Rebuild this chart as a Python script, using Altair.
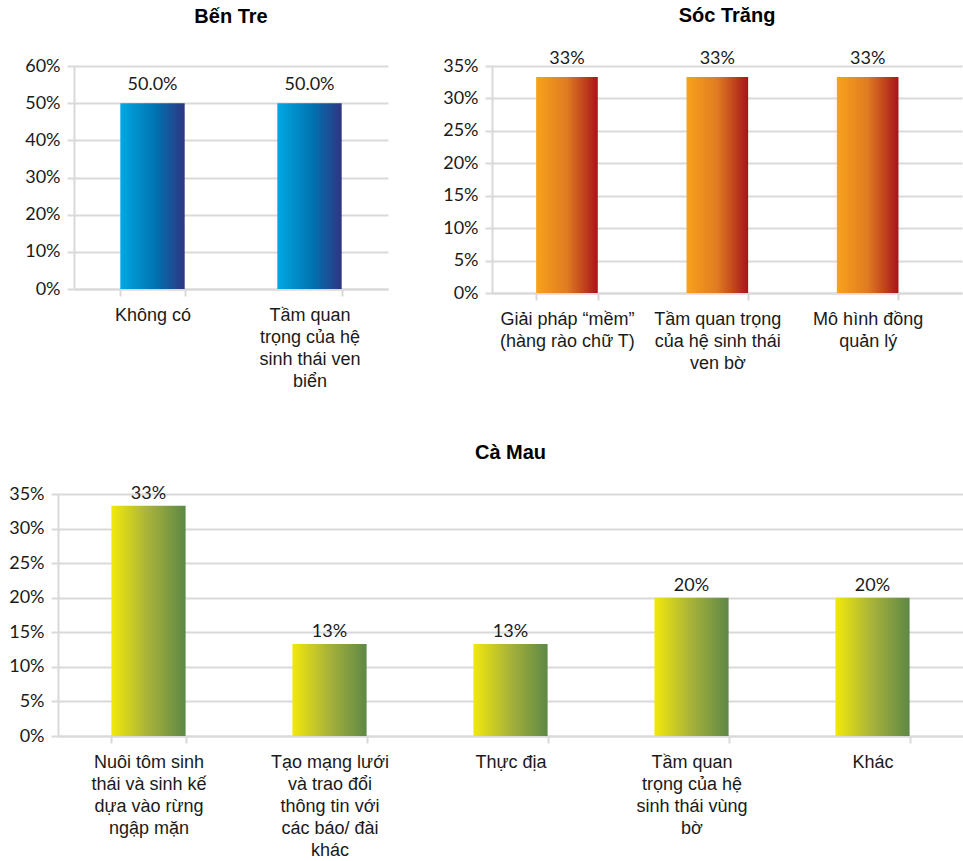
import altair as alt
import pandas as pd

# ---- data ----
bt_cats = ["Không có", "Tầm quan\ntrọng của hệ\nsinh thái ven\nbiển"]
bt_vals = [0.50, 0.50]
bt_ticks = [0.0, 0.1, 0.2, 0.3, 0.4, 0.5, 0.6]

st_cats = ["Giải pháp “mềm”\n(hàng rào chữ T)", "Tầm quan trọng\ncủa hệ sinh thái\nven bờ", "Mô hình đồng\nquản lý"]
st_vals = [0.333, 0.333, 0.333]
st_ticks = [0.0, 0.05, 0.10, 0.15, 0.20, 0.25, 0.30, 0.35]

cm_cats = ["Nuôi tôm sinh\nthái và sinh kế\ndựa vào rừng\nngập mặn",
           "Tạo mạng lưới\nvà trao đổi\nthông tin với\ncác báo/ đài\nkhác",
           "Thực địa",
           "Tầm quan\ntrọng của hệ\nsinh thái vùng\nbờ",
           "Khác"]
cm_vals = [0.333, 0.133, 0.133, 0.200, 0.200]
cm_ticks = [0.0, 0.05, 0.10, 0.15, 0.20, 0.25, 0.30, 0.35]

BLUE = [(0.0, "#00A9E3"), (0.55, "#0072B0"), (1.0, "#2F3581")]
ORANGE = [(0.0, "#F8A21C"), (0.5, "#E07B22"), (1.0, "#A8141A")]
GREEN = [(0.0, "#F2E80C"), (0.5, "#A6B23A"), (1.0, "#5E8845")]

GRID = "#D9D9D9"
TXT = "#1a1a1a"


def panel(cats, vals, ticks, title, stops, fmt, w, h, po, align, extent, dy, toff):
    df = pd.DataFrame({"cat": cats, "val": vals})
    xscale = alt.Scale(paddingInner=0.59, paddingOuter=po, align=align)
    x = alt.X("cat:N", sort=None, scale=xscale,
              axis=alt.Axis(title=None, labelAngle=0, tickBand="extent",
                            labelExpr="split(datum.label, '\\n')",
                            domain=True, domainColor=GRID, domainWidth=2,
                            ticks=True, tickColor=GRID, tickWidth=2, tickSize=7,
                            labelFont="Liberation Sans", labelFontSize=18,
                            labelColor=TXT, labelLineHeight=22, labelPadding=10,
                            labelBaseline="top", grid=False))
    y = alt.Y("val:Q", scale=alt.Scale(domain=[ticks[0], ticks[-1]], nice=False, zero=True),
              axis=alt.Axis(title=None, format=".0%", values=ticks,
                            tickCount=len(ticks) + 2, labelOverlap=False,
                            grid=True, gridColor=GRID, gridWidth=2,
                            domain=True, domainColor=GRID, domainWidth=2,
                            ticks=True, tickColor=GRID, tickWidth=2, tickSize=7,
                            labelFont="Lato", labelFontSize=18, labelColor=TXT,
                            labelPadding=7, minExtent=extent, maxExtent=extent))
    grad = alt.Gradient(gradient="linear",
                        stops=[alt.GradientStop(offset=o, color=c) for o, c in stops],
                        x1=0, x2=1, y1=0, y2=0)
    base = alt.Chart(df).encode(x=x, y=y)
    bars = base.mark_bar(color=grad)
    text = base.mark_text(dy=dy, baseline="alphabetic", font="Lato",
                          fontSize=18, color=TXT).encode(
        text=alt.Text("val:Q", format=fmt))
    return alt.layer(bars, text).properties(
        width=w, height=h,
        title=alt.TitleParams(title, font="Liberation Sans", fontSize=20,
                              fontWeight="bold", color="#000000",
                              anchor="middle", offset=toff))


def spacer(w):
    return alt.Chart(pd.DataFrame({"s": [0]})).mark_rect(
        fill="#ffffff", opacity=1, strokeWidth=0, stroke="#ffffff"
    ).encode(
        x=alt.value(0), x2=alt.value(w), y=alt.value(0), y2=alt.value(1)
    ).properties(width=w, height=1)


bt = panel(bt_cats, bt_vals, bt_ticks, "Bến Tre", BLUE, ".1%", 314, 223, 0.295, 0.5, 66, -13, 30)
st = panel(st_cats, st_vals, st_ticks, "Sóc Trăng", ORANGE, ".0%", 470, 227, 0.358, 0.41, 49, -13, 24)
cm = panel(cm_cats, cm_vals, cm_ticks, "Cà Mau", GREEN, ".0%", 905, 242, 0.295, 0.5, 49, -7, 22)

top_row = alt.hconcat(spacer(8), alt.hconcat(bt, st, spacing=54), spacing=0)
bottom_row = alt.hconcat(spacer(8), cm, spacing=0)

chart = alt.vconcat(top_row, bottom_row, spacing=52).properties(
    padding={"left": 0, "top": 6, "right": 0, "bottom": 0},
    background="white",
).configure_view(stroke=None, strokeWidth=0)

chart.save("out.html", embed_options={"renderer": "svg", "actions": False})
